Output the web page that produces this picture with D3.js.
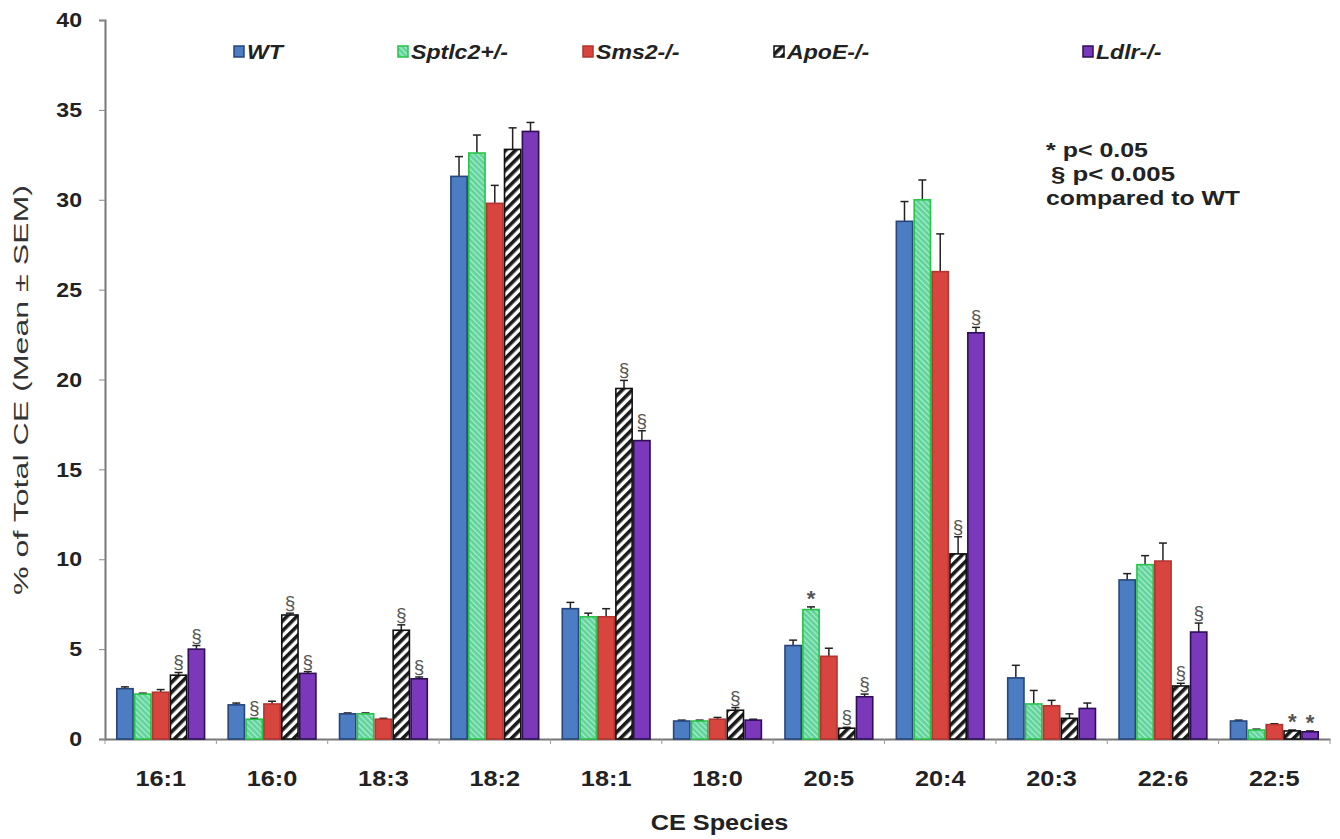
<!DOCTYPE html>
<html><head><meta charset="utf-8">
<script src="https://cdn.jsdelivr.net/npm/d3@7/dist/d3.min.js"></script>
<style>body{margin:0;background:#fff}svg{display:block}text{font-family:Arial,"Liberation Sans",sans-serif}</style>
</head><body>
<svg id="c" width="1340" height="839"></svg>
<script>
const categories = ["16:1","16:0","18:3","18:2","18:1","18:0","20:5","20:4","20:3","22:6","22:5"];
const seriesNames = ["WT","Sptlc2+/-","Sms2-/-","ApoE-/-","Ldlr-/-"];
const wtValues     = [2.8, 1.9, 1.4, 31.3, 7.25, 1.0, 5.2, 28.8, 3.4, 8.85, 1.0];
const wtErr        = [0.1, 0.1, 0.05, 1.1, 0.35, 0.05, 0.3, 1.1, 0.7, 0.35, 0.05];
const sptlc2Values = [2.5, 1.1, 1.4, 32.6, 6.8, 1.0, 7.2, 30.0, 1.95, 9.7, 0.5];
const sptlc2Err    = [0.05, 0.05, 0.05, 1.0, 0.2, 0.05, 0.15, 1.1, 0.75, 0.5, 0.05];
const sms2Values   = [2.6, 1.95, 1.1, 29.8, 6.8, 1.1, 4.6, 26.0, 1.85, 9.9, 0.8];
const sms2Err      = [0.15, 0.15, 0.05, 1.0, 0.45, 0.1, 0.45, 2.1, 0.3, 1.0, 0.05];
const apoeValues   = [3.55, 6.9, 6.05, 32.8, 19.5, 1.6, 0.6, 10.3, 1.15, 2.95, 0.45];
const apoeErr      = [0.15, 0.1, 0.3, 1.2, 0.45, 0.15, 0.05, 0.95, 0.25, 0.15, 0.05];
const ldlrValues   = [5.0, 3.65, 3.35, 33.8, 16.6, 1.05, 2.35, 22.6, 1.7, 5.95, 0.4];
const ldlrErr      = [0.2, 0.1, 0.1, 0.5, 0.55, 0.05, 0.15, 0.3, 0.3, 0.5, 0.05];
const wtSig     = ["","","","","","","","","","",""];
const sptlc2Sig = ["","§","","","","","*","","","",""];
const sms2Sig   = ["","","","","","","","","","",""];
const apoeSig   = ["§","§","§","","§","§","§","§","","§","*"];
const ldlrSig   = ["§","§","§","","§","","§","§","","§","*"];
const yTicks = [0,5,10,15,20,25,30,35,40];
const noteLines = ["* p< 0.05","§ p< 0.005","compared to WT"];

const seriesData = [
  {name:seriesNames[0], v:wtValues, e:wtErr, s:wtSig, fill:"#4c7cc2", stroke:"#27457a"},
  {name:seriesNames[1], v:sptlc2Values, e:sptlc2Err, s:sptlc2Sig, fill:"url(#hatchGreen)", stroke:"#27c448"},
  {name:seriesNames[2], v:sms2Values, e:sms2Err, s:sms2Sig, fill:"#d8453f", stroke:"#b23530"},
  {name:seriesNames[3], v:apoeValues, e:apoeErr, s:apoeSig, fill:"url(#hatchBW)", stroke:"#111"},
  {name:seriesNames[4], v:ldlrValues, e:ldlrErr, s:ldlrSig, fill:"#7b38ba", stroke:"#2e0f55"}
];

const svg = d3.select("#c");
const defs = svg.append("defs");
const pg = defs.append("pattern").attr("id","hatchGreen").attr("patternUnits","userSpaceOnUse")
  .attr("width",4).attr("height",4).attr("patternTransform","rotate(-45)");
pg.append("rect").attr("width",4).attr("height",4).attr("fill","#5fd39c");
pg.append("rect").attr("width",1.3).attr("height",4).attr("fill","#a9ecc8");
const pb = defs.append("pattern").attr("id","hatchBW").attr("patternUnits","userSpaceOnUse")
  .attr("width",7).attr("height",7).attr("patternTransform","rotate(45)");
pb.append("rect").attr("width",7).attr("height",7).attr("fill","#fff");
pb.append("rect").attr("width",3.6).attr("height",7).attr("fill","#1a1a1a");

const pLeft = 105, pRight = 1330, pTop = 20, pBottom = 739;
const sx = 1.15;
const x0 = d3.scaleBand().domain(categories).range([pLeft, pRight]).paddingInner(0).paddingOuter(0);
const x1 = d3.scaleBand().domain(seriesNames).range([11, x0.bandwidth()-11]).padding(0);
const y = d3.scaleLinear().domain([0,40]).range([pBottom, pTop]);

// axes
const yAxis = d3.axisLeft(y).tickValues(yTicks).tickSize(6).tickPadding(17).tickFormat(d3.format("d"));
const gy = svg.append("g").attr("transform",`translate(${pLeft},0)`).call(yAxis);
gy.select(".domain").attr("stroke","#777").attr("stroke-width",2);
gy.selectAll(".tick line").attr("stroke","#888");
gy.selectAll("text").attr("x",0).attr("transform","translate(-23,0) scale(1.1,1)")
  .attr("font-size",21).attr("font-weight","bold").attr("fill","#222");

const gx = svg.append("g").attr("transform",`translate(0,${pBottom})`)
  .call(d3.axisBottom(x0).tickSize(0).tickPadding(0));
gx.select(".domain").attr("stroke","#777").attr("stroke-width",2);
gx.selectAll("text").attr("y",0).attr("dy",null).attr("transform",`translate(0,47) scale(${sx},1)`)
  .attr("font-size",22).attr("font-weight","bold").attr("fill","#222");
// boundary ticks
svg.append("g").selectAll("line").data(categories.concat(["end"])).join("line")
  .attr("x1",(d,i)=> i<categories.length ? x0(d) : pRight)
  .attr("x2",(d,i)=> i<categories.length ? x0(d) : pRight)
  .attr("y1",pBottom).attr("y2",pBottom+5).attr("stroke","#999");

// bars
const groups = svg.append("g").selectAll("g").data(seriesData).join("g");
groups.each(function(s){
  const g = d3.select(this);
  const bw = x1.bandwidth();
  const rows = categories.map((c,i)=>({c, v:s.v[i], e:s.e[i], sig:s.s[i]}));
  g.selectAll("line.err").data(rows).join("line").attr("class","err")
    .attr("x1",d=>x0(d.c)+x1(s.name)+bw/2).attr("x2",d=>x0(d.c)+x1(s.name)+bw/2)
    .attr("y1",d=>y(d.v)).attr("y2",d=>y(d.v+d.e)).attr("stroke","#222").attr("stroke-width",1.5);
  g.selectAll("line.cap").data(rows).join("line").attr("class","cap")
    .attr("x1",d=>x0(d.c)+x1(s.name)+bw/2-4).attr("x2",d=>x0(d.c)+x1(s.name)+bw/2+4)
    .attr("y1",d=>y(d.v+d.e)).attr("y2",d=>y(d.v+d.e)).attr("stroke","#222").attr("stroke-width",1.5);
  g.selectAll("rect").data(rows).join("rect")
    .attr("x",d=>x0(d.c)+x1(s.name)+0.8).attr("width",bw-1.6)
    .attr("y",d=>y(d.v)).attr("height",d=>y(0)-y(d.v))
    .attr("fill",s.fill).attr("stroke",s.stroke).attr("stroke-width",1.6);
  g.selectAll("text").data(rows.filter(d=>d.sig)).join("text")
    .attr("x",d=>x0(d.c)+x1(s.name)+bw/2)
    .attr("y",d=>y(d.v+d.e) - (d.sig==="*"?1:4))
    .attr("text-anchor","middle").attr("font-size",d=>d.sig==="*"?22:19)
    .attr("font-weight",d=>d.sig==="*"?"bold":"normal")
    .attr("fill","#555").text(d=>d.sig);
});

// axis titles
svg.append("text").attr("transform",`translate(${(pLeft+pRight)/2+2},830) scale(${sx},1)`).attr("text-anchor","middle")
  .attr("font-size",22).attr("font-weight","bold").attr("fill","#222").text("CE Species");
svg.append("text").attr("transform","translate(28,390) rotate(-90)").attr("text-anchor","middle")
  .attr("font-size",20).attr("fill","#333").attr("textLength",410).attr("lengthAdjust","spacingAndGlyphs")
  .text("% of Total CE (Mean ± SEM)");

// legend
const legX = [234, 398, 583, 774, 1083];
const leg = svg.append("g").selectAll("g").data(seriesData).join("g")
  .attr("transform",(d,i)=>`translate(${legX[i]},52)`);
leg.append("rect").attr("x",0).attr("y",-6).attr("width",10).attr("height",11)
  .attr("fill",d=>d.fill).attr("stroke",d=>d.stroke).attr("stroke-width",1.5);
leg.append("text").attr("transform",`translate(13,7) scale(1.1,1)`).attr("font-size",21).attr("font-weight","bold")
  .attr("font-style","italic").attr("fill","#222").text(d=>d.name);

// note
const noteX = [1046, 1051, 1046];
const noteW = [102, 124, 194];
svg.append("g").selectAll("text").data(noteLines).join("text")
  .attr("x",(d,i)=>noteX[i]).attr("y",(d,i)=>157+i*24)
  .attr("textLength",(d,i)=>noteW[i]).attr("lengthAdjust","spacingAndGlyphs")
  .attr("font-size",21).attr("font-weight","bold").attr("fill","#222").text(d=>d);
</script>
</body></html>
